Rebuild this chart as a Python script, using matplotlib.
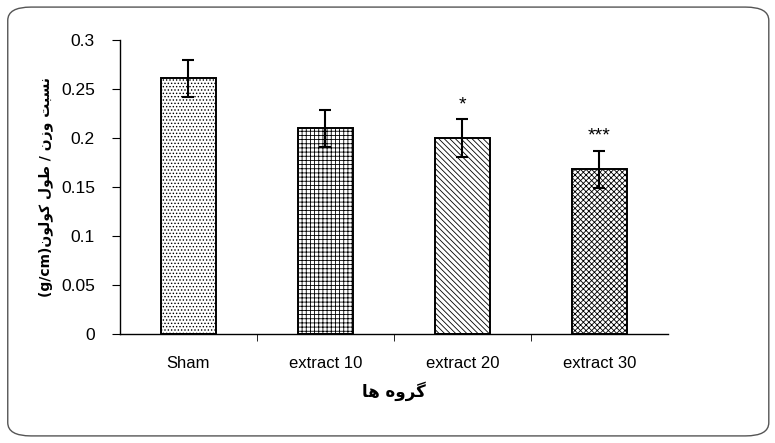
import matplotlib
matplotlib.use('Agg')
import matplotlib.pyplot as plt
from matplotlib.patches import FancyBboxPatch
import numpy as np

groups = ['Sham', 'extract 10', 'extract 20', 'extract 30']
means = [0.261, 0.210, 0.200, 0.168]
errs = [0.019, 0.019, 0.019, 0.019]
stars = ['', '', '*', '***']
hatches = ['.....', '++++', '\\\\\\\\\\\\', 'xxxxxx']

# persian labels written in visual order with presentation forms
# (matplotlib does no RTL shaping on its own)
ylab = ('(g/cm)'
        + '\uFEE5\uFEEE\uFEDF\uFEEE\uFB90' + ' '
        + '\uFEDD\uFEEE\uFEC3' + ' / '
        + '\uFEE5\uFEAF\uFEED' + ' '
        + '\uFE96\uFE92\uFEB4\uFEE7')
xlab = '\uFE8E\uFEEB' + ' ' + '\uFEE9\uFEED\uFEAE\uFB94'

plt.rcParams['font.family'] = ['Liberation Sans', 'DejaVu Sans']
plt.rcParams['hatch.linewidth'] = 0.6
plt.rcParams['hatch.color'] = '#555555'

fig = plt.figure(figsize=(7.75, 4.43), dpi=100)
ax = fig.add_axes([0.1548, 0.246, 0.707, 0.6637])

x = np.arange(len(groups))
bars = ax.bar(x, means, width=0.4, color='white', edgecolor='black', linewidth=1.4)
for b, h in zip(bars, hatches):
	b.set_hatch(h)
ax.errorbar(x, means, yerr=errs, fmt='none', ecolor='black', elinewidth=1.5,
	capsize=4.5, capthick=1.5)
for i in range(len(groups)):
	if stars[i]:
		ax.text(x[i], means[i] + errs[i] + 0.006, stars[i], ha='center', va='bottom', fontsize=14)

ax.set_xlim(-0.5, 3.5)
ax.set_ylim(0, 0.3)
ax.set_yticks([0, 0.05, 0.1, 0.15, 0.2, 0.25, 0.3])
ax.set_yticklabels(['0', '0.05', '0.1', '0.15', '0.2', '0.25', '0.3'])
ax.set_xticks(x)
ax.set_xticklabels(groups)
ax.set_xticks([0.5, 1.5, 2.5], minor=True)
ax.tick_params(axis='x', which='major', length=0, pad=16, labelsize=12)
ax.tick_params(axis='x', which='minor', length=5, direction='out')
ax.tick_params(axis='y', length=6, direction='out', labelsize=12.5, pad=12)
for s in ['top', 'right']:
	ax.spines[s].set_visible(False)
ax.spines['left'].set_linewidth(1)
ax.spines['bottom'].set_linewidth(1)

ax.set_ylabel(ylab, fontsize=10, fontweight='bold', family=['DejaVu Sans'], labelpad=6)
ax.set_xlabel(xlab, fontsize=12, fontweight='bold', family=['DejaVu Sans'], labelpad=7)

frame = FancyBboxPatch((0.01, 0.016), 0.982, 0.968, boxstyle='round,pad=0,rounding_size=0.03',
	transform=fig.transFigure, fill=False, edgecolor='#555555', linewidth=1)
fig.patches.append(frame)

plt.savefig('out.png', dpi=100)
